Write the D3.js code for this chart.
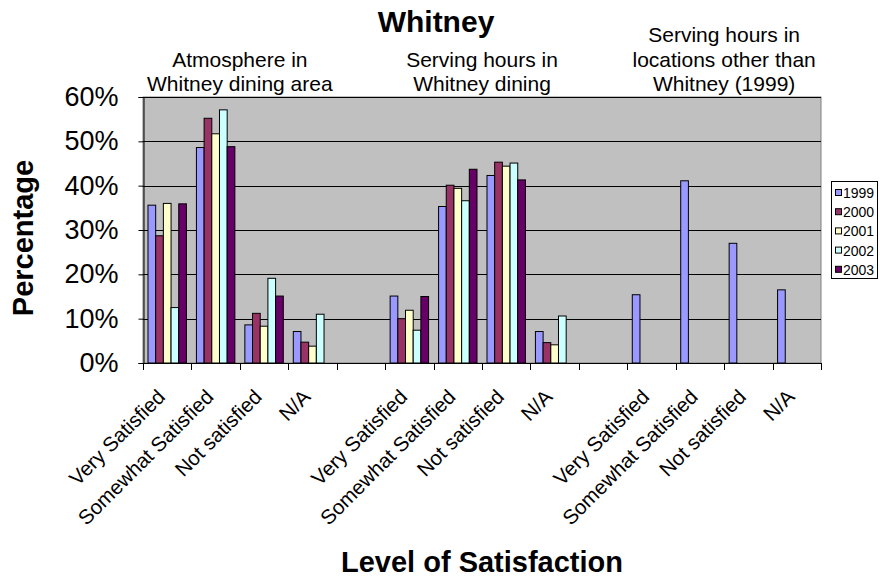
<!DOCTYPE html>
<html>
<head>
<meta charset="utf-8">
<script src="https://cdn.jsdelivr.net/npm/d3@7"></script>
<style>
  html, body { margin: 0; padding: 0; background: #fff; }
  svg { display: block; font-family: Arial, "Liberation Sans", sans-serif; }
</style>
</head>
<body>
<svg id="chart" width="880" height="578"></svg>
<script>
// Satisfaction categories (blank slots separate the three survey groups)
const categories = [
  "Very Satisfied", "Somewhat Satisfied", "Not satisfied", "N/A", "",
  "Very Satisfied", "Somewhat Satisfied", "Not satisfied", "N/A", "",
  "Very Satisfied", "Somewhat Satisfied", "Not satisfied", "N/A"
];
const years = ["1999", "2000", "2001", "2002", "2003"];
const colors = ["#9999FF", "#993366", "#FFFFCC", "#CCFFFF", "#660066"];

// Percent of respondents per category, one array per survey year
const values1999 = [35.6, 48.6, 8.6, 7.1, null, 15.1, 35.3, 42.3, 7.1, null, 15.4, 41.1, 27.0, 16.5];
const values2000 = [28.7, 55.2, 11.2, 4.7, null, 10.0, 40.1, 45.3, 4.6, null, null, null, null, null];
const values2001 = [36.0, 51.7, 8.3, 3.8, null, 11.9, 39.4, 44.4, 4.1, null, null, null, null, null];
const values2002 = [12.5, 57.1, 19.1, 11.0, null, 7.4, 36.6, 45.1, 10.6, null, null, null, null, null];
const values2003 = [35.9, 48.8, 15.1, null, null, 15.0, 43.7, 41.3, null, null, null, null, null, null];
const seriesValues = [values1999, values2000, values2001, values2002, values2003];

const yTicks = [0, 10, 20, 30, 40, 50, 60];

const groupTitles = [
  { lines: ["Atmosphere in", "Whitney dining area"], from: 0, to: 4 },
  { lines: ["Serving hours in", "Whitney dining"], from: 5, to: 9 },
  { lines: ["Serving hours in", "locations other than", "Whitney (1999)"], from: 10, to: 14 }
];

const svg = d3.select("#chart");
const plot = { left: 143, right: 821, top: 97, bottom: 363 };

const x = d3.scaleBand()
  .domain(d3.range(categories.length))
  .range([plot.left, plot.right])
  .padding(0);

const xInner = d3.scaleBand()
  .domain(years)
  .range([0, x.bandwidth()])
  .paddingInner(0)
  .paddingOuter(0.65);

const y = d3.scaleLinear().domain([0, 60]).range([plot.bottom, plot.top]);

// Plot background
svg.append("rect")
  .attr("x", plot.left).attr("y", plot.top)
  .attr("width", plot.right - plot.left).attr("height", plot.bottom - plot.top)
  .attr("fill", "#C0C0C0").attr("stroke", "#808080").attr("stroke-width", 1);

// Horizontal gridlines
svg.append("g")
  .selectAll("line")
  .data(yTicks.filter(t => t > 0))
  .join("line")
  .attr("x1", plot.left).attr("x2", plot.right)
  .attr("y1", d => Math.round(y(d)) + 0.5).attr("y2", d => Math.round(y(d)) + 0.5)
  .attr("stroke", "#000").attr("stroke-width", 1);

// Bars
const bars = svg.append("g");
years.forEach((yr, si) => {
  bars.append("g")
    .selectAll("rect")
    .data(seriesValues[si].map((v, i) => ({ i, v })).filter(d => d.v != null))
    .join("rect")
    .attr("x", d => x(d.i) + xInner(yr))
    .attr("y", d => y(d.v))
    .attr("width", xInner.bandwidth())
    .attr("height", d => y(0) - y(d.v))
    .attr("fill", colors[si])
    .attr("stroke", "#000")
    .attr("stroke-width", 1);
});

// Y axis
const yAxis = svg.append("g")
  .attr("transform", `translate(${plot.left + 0.5},0)`)
  .call(d3.axisLeft(y).tickValues(yTicks).tickFormat(d => d + "%").tickSize(5).tickPadding(20));
yAxis.select(".domain").attr("stroke", "#000");
yAxis.selectAll(".tick line").attr("stroke", "#000");
yAxis.selectAll(".tick text")
  .attr("font-size", 27).attr("fill", "#000")
  .attr("font-family", "Arial, 'Liberation Sans', sans-serif");

// X axis: tick marks at category boundaries
const xAxisG = svg.append("g");
xAxisG.append("line")
  .attr("x1", plot.left).attr("x2", plot.right)
  .attr("y1", plot.bottom + 0.5).attr("y2", plot.bottom + 0.5)
  .attr("stroke", "#000");
xAxisG.selectAll("line.tick")
  .data(d3.range(categories.length + 1))
  .join("line")
  .attr("class", "tick")
  .attr("x1", d => Math.round(plot.left + d * x.step()) + 0.5)
  .attr("x2", d => Math.round(plot.left + d * x.step()) + 0.5)
  .attr("y1", plot.bottom).attr("y2", plot.bottom + 7)
  .attr("stroke", "#000");

// Rotated category labels
xAxisG.selectAll("text")
  .data(categories.map((c, i) => ({ c, i })).filter(d => d.c !== ""))
  .join("text")
  .attr("transform", d => `translate(${x(d.i) + x.bandwidth() / 2 - 6},${plot.bottom + 30}) rotate(-45)`)
  .attr("text-anchor", "end")
  .attr("dy", "0.35em")
  .attr("font-size", 20.5)
  .attr("fill", "#000")
  .text(d => d.c);

// Chart title
svg.append("text")
  .attr("x", 436).attr("y", 32)
  .attr("text-anchor", "middle")
  .attr("font-size", 30).attr("font-weight", "bold")
  .text("Whitney");

// Group headings above the plot
groupTitles.forEach(g => {
  const cx = (x(g.from) + (g.to < categories.length ? x(g.to) : plot.right)) / 2;
  const t = svg.append("text").attr("text-anchor", "middle").attr("font-size", 21);
  const n = g.lines.length;
  g.lines.forEach((line, k) => {
    t.append("tspan").attr("x", cx).attr("y", 91 - (n - 1 - k) * 24.5).text(line);
  });
});

// Axis titles
svg.append("text")
  .attr("transform", "translate(33,238) rotate(-90)")
  .attr("text-anchor", "middle")
  .attr("font-size", 29).attr("font-weight", "bold")
  .text("Percentage");

svg.append("text")
  .attr("x", 482).attr("y", 572)
  .attr("text-anchor", "middle")
  .attr("font-size", 29).attr("font-weight", "bold")
  .text("Level of Satisfaction");

// Legend
const legend = svg.append("g");
legend.append("rect")
  .attr("x", 831.5).attr("y", 181.5).attr("width", 46).attr("height", 97)
  .attr("fill", "#fff").attr("stroke", "#000");
years.forEach((yr, i) => {
  const cy = 193 + i * 19.2;
  legend.append("rect")
    .attr("x", 835.5).attr("y", cy - 3.5).attr("width", 6).attr("height", 6)
    .attr("fill", colors[i]).attr("stroke", "#000");
  legend.append("text")
    .attr("x", 843).attr("y", cy).attr("dy", "0.35em")
    .attr("font-size", 14).text(yr);
});
</script>
</body>
</html>
